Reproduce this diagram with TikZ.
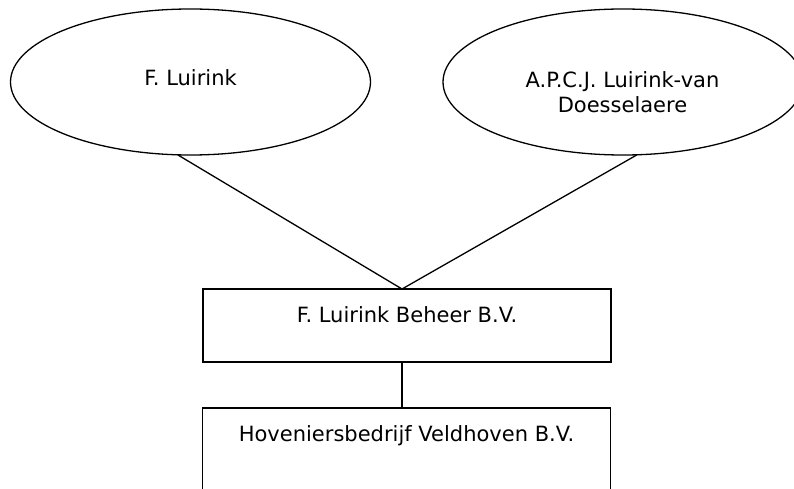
\documentclass[tikz,border=0pt]{standalone}
\usepackage{fontspec}
\setmainfont{DejaVu Sans}
\usetikzlibrary{shapes.geometric}

\begin{document}
\begin{tikzpicture}[x=1pt,y=-1pt,line width=1.3pt,
	owner/.style={ellipse,draw,minimum width=360pt,minimum height=146pt,inner sep=0pt,outer sep=0pt},
	firm/.style={rectangle,draw,minimum width=408pt,inner sep=0pt,outer sep=0pt},
	label/.style={inner sep=0pt,font=\fontsize{21}{25.5}\selectfont,align=center}]
	\clip (0,0) rectangle (794,489);
	% owners
	\node[owner] (fl) at (190.5,82) {};
	\node[owner] (ap) at (623,82) {};
	\node[label,anchor=base] (fltext) at (190.5,86) {F. Luirink};
	\node[label] (aptext) at (622.5,92) {A.P.C.J. Luirink-van\\Doesselaere};
	% companies
	\node[firm,minimum height=73pt] (beheer) at (407,325.5) {};
	\node[firm,minimum height=120pt] (hov) at (406.5,468) {};
	\node[label,anchor=base] (behtext) at (407,322) {F. Luirink Beheer B.V.};
	\node[label,anchor=base] (hovtext) at (406.5,441) {Hoveniersbedrijf Veldhoven B.V.};
	% connectors
	\coordinate (join) at (402,289);
	\coordinate (down) at (402,362);
	\draw (fl.260) -- (join);
	\draw (ap.281) -- (join);
	\draw (down) -- (down |- hov.north);
	%\draw (beheer.south) -- (hov.north);
\end{tikzpicture}
\end{document}
